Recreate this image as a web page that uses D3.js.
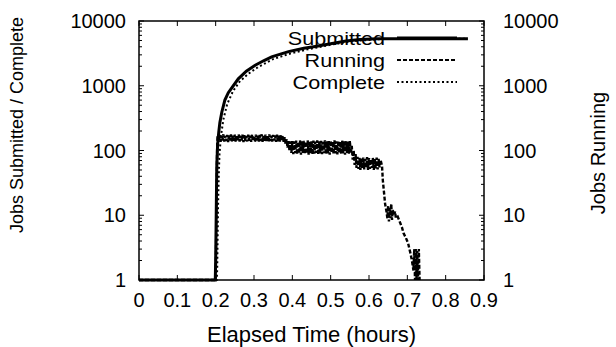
<!DOCTYPE html>
<html>
<head>
<meta charset="utf-8">
<script src="https://cdn.jsdelivr.net/npm/d3@7"></script>
<style>
  body { margin: 0; background: #fff; }
  text { font-family: "Liberation Sans", Arial, Helvetica, sans-serif; fill: #000; }
</style>
</head>
<body>
<div id="chart"></div>
<script>
// x ticks (hours)
var xTicks = [0, 0.1, 0.2, 0.3, 0.4, 0.5, 0.6, 0.7, 0.8, 0.9];
var yTicks = [1, 10, 100, 1000, 10000];

// Jobs Submitted (cumulative)
var submittedT = [0, 0.199, 0.2, 0.201, 0.202, 0.203, 0.205, 0.208, 0.211, 0.216, 0.224, 0.233, 0.242, 0.259, 0.28, 0.303, 0.325, 0.346, 0.39, 0.43, 0.46, 0.5, 0.54, 0.577, 0.62, 0.7, 0.8, 0.858];
var submittedV = [1, 1, 2, 6, 20, 60, 120, 190, 270, 390, 600, 780, 930, 1280, 1680, 2070, 2430, 2800, 3370, 3800, 4050, 4450, 4900, 5200, 5300, 5300, 5300, 5300];

// Jobs Complete (cumulative)
var completeT = [0, 0.203, 0.204, 0.205, 0.206, 0.208, 0.21, 0.214, 0.22, 0.23, 0.245, 0.262, 0.285, 0.31, 0.35, 0.395, 0.44, 0.5, 0.56, 0.63, 0.72, 0.858];
var completeV = [1, 1, 1.5, 4, 12, 40, 90, 170, 300, 520, 820, 1150, 1530, 1930, 2580, 3150, 3650, 4300, 4900, 5250, 5300, 5300];

// Jobs Running (noisy)
var running = [
  [0, 1], [0.199, 1], [0.2, 1], [0.201, 3], [0.202, 11], [0.203, 40], [0.204, 120],
  [0.205, 172], [0.2075, 140], [0.21, 176], [0.2125, 136], [0.215, 170], [0.2175, 142],
  [0.22, 178], [0.2225, 137], [0.225, 168], [0.2275, 140], [0.23, 174], [0.2325, 135],
  [0.235, 171], [0.2375, 143], [0.24, 177], [0.2425, 138], [0.245, 169], [0.2475, 141],
  [0.25, 175], [0.2525, 136], [0.255, 172], [0.2575, 139], [0.26, 178], [0.2625, 137],
  [0.265, 170], [0.2675, 142], [0.27, 176], [0.2725, 135], [0.275, 173], [0.2775, 140],
  [0.28, 168], [0.2825, 138], [0.285, 175], [0.2875, 141], [0.29, 170], [0.2925, 136],
  [0.295, 177], [0.2975, 139], [0.3, 171], [0.3025, 135], [0.305, 176], [0.3075, 142],
  [0.31, 169], [0.3125, 137], [0.315, 174], [0.3175, 140], [0.32, 178], [0.3225, 136],
  [0.325, 170], [0.3275, 141], [0.33, 175], [0.3325, 138], [0.335, 172], [0.3375, 135],
  [0.34, 177], [0.3425, 140], [0.345, 169], [0.3475, 137], [0.35, 174], [0.3525, 142],
  [0.355, 171], [0.3575, 136], [0.36, 176], [0.3625, 139], [0.365, 170], [0.3675, 137],
  [0.37, 175], [0.3725, 140], [0.375, 168], [0.3775, 134], [0.38, 160],
  [0.3825, 126], [0.385, 150], [0.3875, 110], [0.39, 140], [0.3925, 100], [0.395, 138],
  [0.3975, 92], [0.4, 140],
  [0.4025, 88], [0.405, 138], [0.4075, 91], [0.41, 142], [0.4125, 87], [0.415, 136],
  [0.4175, 90], [0.42, 143], [0.4225, 86], [0.425, 139], [0.4275, 92], [0.43, 141],
  [0.4325, 88], [0.435, 137], [0.4375, 90], [0.44, 144], [0.4425, 86], [0.445, 138],
  [0.4475, 91], [0.45, 140], [0.4525, 87], [0.455, 142], [0.4575, 89], [0.46, 137],
  [0.4625, 92], [0.465, 143], [0.4675, 86], [0.47, 139], [0.4725, 90], [0.475, 141],
  [0.4775, 88], [0.48, 136], [0.4825, 91], [0.485, 144], [0.4875, 87], [0.49, 138],
  [0.4925, 90], [0.495, 140], [0.4975, 86], [0.5, 142], [0.5025, 92], [0.505, 137],
  [0.5075, 88], [0.51, 143], [0.5125, 90], [0.515, 139], [0.5175, 87], [0.52, 141],
  [0.5225, 91], [0.525, 136], [0.5275, 88], [0.53, 142], [0.5325, 90], [0.535, 138],
  [0.5375, 86], [0.54, 140], [0.5425, 92], [0.545, 137], [0.5475, 89], [0.55, 141],
  [0.5525, 90], [0.555, 118], [0.5575, 72], [0.56, 100], [0.5625, 60], [0.565, 88],
  [0.5675, 54], [0.57, 80],
  [0.5725, 52], [0.575, 77], [0.5775, 50], [0.58, 75], [0.5825, 53], [0.585, 78],
  [0.5875, 51], [0.59, 74], [0.5925, 55], [0.595, 79], [0.5975, 50], [0.6, 76],
  [0.6025, 52], [0.605, 73], [0.6075, 54], [0.61, 77], [0.6125, 50], [0.615, 75],
  [0.6175, 53], [0.62, 78], [0.6225, 51], [0.625, 74], [0.6275, 55], [0.63, 72],
  [0.634, 58],
  [0.636, 35], [0.64, 20], [0.642, 15], [0.645, 12], [0.648, 9], [0.65, 14], [0.652, 8],
  [0.654, 13], [0.656, 9], [0.658, 15], [0.66, 8.5], [0.662, 12], [0.665, 10],
  [0.668, 11.5], [0.67, 9], [0.675, 9.5], [0.68, 8], [0.686, 6.5], [0.69, 5.3],
  [0.696, 4.5], [0.702, 3.7], [0.708, 2.6], [0.712, 2], [0.716, 1.4], [0.718, 3],
  [0.72, 1], [0.722, 3], [0.724, 1], [0.726, 2.8], [0.728, 1], [0.73, 3], [0.732, 1]
];

var seriesNames = ['Submitted', 'Running', 'Complete'];

var width = 616, height = 347;
var margin = { left: 139, right: 132, top: 21, bottom: 67 };
var fs = 20;

var svg = d3.select('#chart').append('svg')
  .attr('width', width)
  .attr('height', height);

var x = d3.scaleLinear().domain([0, 0.9]).range([margin.left, width - margin.right]);
var y = d3.scaleLog().domain([1, 10000]).range([height - margin.bottom, margin.top]);
var y2 = d3.scaleLog().domain([1, 10000]).range([height - margin.bottom, margin.top]);

var x0 = x.range()[0], x1 = x.range()[1];
var yb = y.range()[0], yt = y.range()[1];

// minor ticks on log axes
var minor = [];
yTicks.slice(0, -1).forEach(function(d) {
  for (var k = 2; k < 10; k++) minor.push(d * k);
});

var g = svg.append('g').attr('stroke', '#000').attr('stroke-width', 1);

// x ticks bottom + top
xTicks.forEach(function(d) {
  g.append('line').attr('x1', x(d)).attr('x2', x(d)).attr('y1', yb).attr('y2', yb - 5);
  g.append('line').attr('x1', x(d)).attr('x2', x(d)).attr('y1', yt).attr('y2', yt + 5);
});
// y ticks left + right
yTicks.forEach(function(d) {
  g.append('line').attr('x1', x0).attr('x2', x0 + 5).attr('y1', y(d)).attr('y2', y(d));
  g.append('line').attr('x1', x1).attr('x2', x1 - 5).attr('y1', y2(d)).attr('y2', y2(d));
});
minor.forEach(function(d) {
  g.append('line').attr('x1', x0).attr('x2', x0 + 3).attr('y1', y(d)).attr('y2', y(d));
  g.append('line').attr('x1', x1).attr('x2', x1 - 3).attr('y1', y2(d)).attr('y2', y2(d));
});

// tick labels
svg.append('g').selectAll('text').data(xTicks).enter().append('text')
  .attr('x', function(d) { return x(d); })
  .attr('y', yb + 27)
  .attr('text-anchor', 'middle')
  .style('font-size', fs + 'px')
  .text(function(d) { return d; });

svg.append('g').selectAll('text').data(yTicks).enter().append('text')
  .attr('x', x0 - 13)
  .attr('y', function(d) { return y(d) + 7; })
  .attr('text-anchor', 'end')
  .style('font-size', fs + 'px')
  .text(function(d) { return d; });

svg.append('g').selectAll('text').data(yTicks).enter().append('text')
  .attr('x', x1 + 19)
  .attr('y', function(d) { return y2(d) + 7; })
  .attr('text-anchor', 'start')
  .style('font-size', fs + 'px')
  .text(function(d) { return d; });

// axis titles
svg.append('text')
  .attr('x', (x0 + x1) / 2).attr('y', 342)
  .attr('text-anchor', 'middle')
  .style('font-size', '22px')
  .text('Elapsed Time (hours)');

svg.append('text')
  .attr('transform', 'translate(23,125) rotate(-90)')
  .attr('text-anchor', 'middle')
  .style('font-size', '18px')
  .text('Jobs Submitted / Complete');

svg.append('text')
  .attr('transform', 'translate(605,153) rotate(-90)')
  .attr('text-anchor', 'middle')
  .style('font-size', '20px')
  .text('Jobs Running');

// series
var line = d3.line()
  .x(function(d) { return x(d[0]); })
  .y(function(d) { return y(d[1]); });
var line2 = d3.line()
  .x(function(d) { return x(d[0]); })
  .y(function(d) { return y2(d[1]); });

var submitted = submittedT.map(function(t, i) { return [t, submittedV[i]]; });
var complete = completeT.map(function(t, i) { return [t, completeV[i]]; });

var styles = {
  Submitted: { w: 3, dash: null },
  Running: { w: 2.4, dash: '4,2' },
  Complete: { w: 2, dash: '2,2.5' }
};

svg.append('path').datum(running)
  .attr('d', line2).attr('fill', 'none').attr('stroke', '#000')
  .attr('stroke-width', styles.Running.w).attr('stroke-dasharray', styles.Running.dash);
svg.append('path').datum(complete)
  .attr('d', line).attr('fill', 'none').attr('stroke', '#000')
  .attr('stroke-width', styles.Complete.w).attr('stroke-dasharray', styles.Complete.dash);
svg.append('path').datum(submitted)
  .attr('d', line).attr('fill', 'none').attr('stroke', '#000')
  .attr('stroke-width', styles.Submitted.w);

// frame
svg.append('rect')
  .attr('x', x0).attr('y', yt)
  .attr('width', x1 - x0).attr('height', yb - yt)
  .attr('fill', 'none').attr('stroke', '#000').attr('stroke-width', 1.5);

// legend (text a bit wide, like the original export)
var leg = svg.append('g');
seriesNames.forEach(function(name, i) {
  var ly = 38 + i * 22;
  leg.append('text')
    .attr('transform', 'translate(385,' + (ly + 7) + ') scale(1.2,1)')
    .attr('text-anchor', 'end')
    .style('font-size', '18px')
    .text(name);
  leg.append('line')
    .attr('x1', 397).attr('x2', 457).attr('y1', ly).attr('y2', ly)
    .attr('stroke', '#000')
    .attr('stroke-width', i === 0 ? 3 : 2)
    .attr('stroke-dasharray', styles[name].dash);
});
</script>
</body>
</html>
